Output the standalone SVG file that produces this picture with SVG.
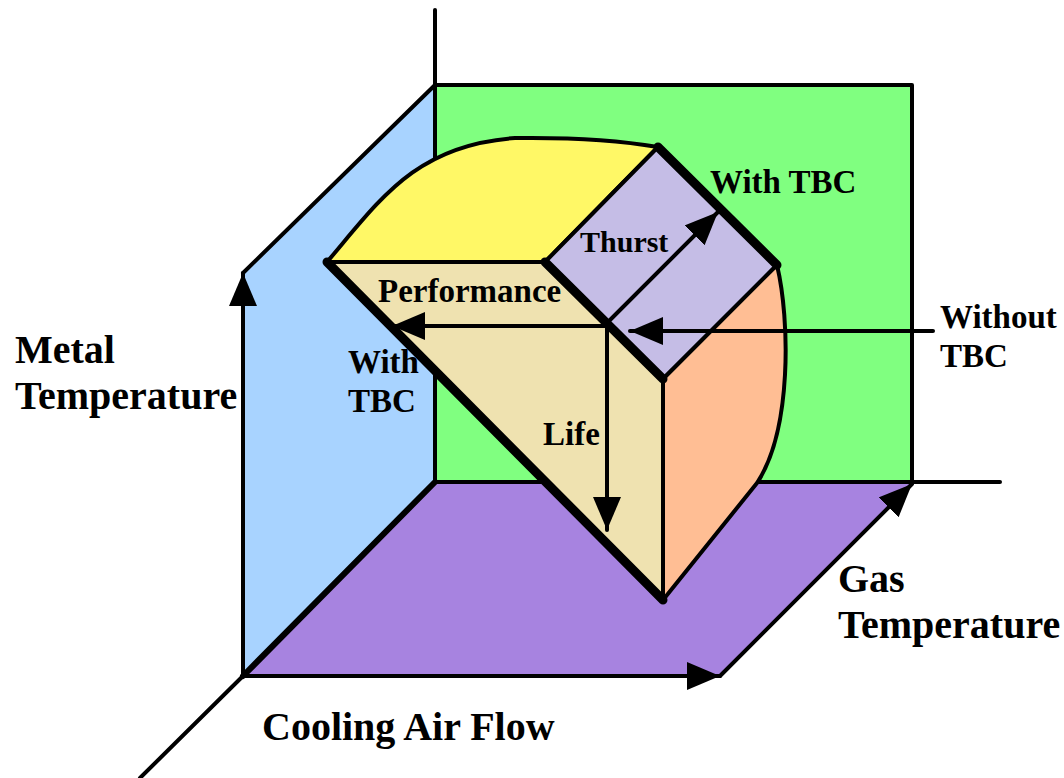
<svg xmlns="http://www.w3.org/2000/svg" width="1064" height="778" viewBox="0 0 1064 778">
<style>
.ln{stroke:#000;stroke-width:4;fill:none;stroke-linecap:round;stroke-linejoin:round}
.face{stroke:#000;stroke-width:4;stroke-linejoin:round}
.thick{stroke:#000;stroke-width:9;fill:none;stroke-linecap:round}
.t{font-family:"Liberation Serif","Times New Roman",serif;font-weight:bold;fill:#000}
</style>
<defs>
<marker id="ah" markerUnits="userSpaceOnUse" markerWidth="36" markerHeight="30" refX="33" refY="14" orient="auto">
<path d="M0,0 L33,14 L0,28 Z" fill="#000"/>
</marker>
</defs>
<rect width="1064" height="778" fill="#fff"/>
<g id="planes">
<rect id="back-plane" x="435" y="85" width="477" height="397" fill="#80FF80" class="face"/>
<polygon id="side-plane" points="435,85 243,273 243,676 435,482" fill="#A8D3FF"/>
<polygon id="floor-plane" points="435,482 912,482 720,676 243,676" fill="#A783E0"/>
</g>
<g id="axes">
<line class="ln" x1="435" y1="10" x2="435" y2="482"/>
<line class="ln" x1="435" y1="85" x2="243" y2="273"/>
<line class="ln" x1="243" y1="676" x2="243" y2="273" marker-end="url(#ah)"/>
<line class="ln" x1="243" y1="676" x2="720" y2="676" marker-end="url(#ah)"/>
<line class="ln" x1="720" y1="676" x2="912" y2="484" marker-end="url(#ah)"/>
<line class="ln" x1="435" y1="482" x2="1000" y2="482"/>
<line class="ln" x1="243" y1="676" x2="140" y2="778"/>
<line class="ln" style="stroke-width:6" x1="243" y1="676" x2="435" y2="482"/>
</g>
<g id="block">
<path id="top-face" class="face" fill="#FFF866" d="M327,262 C380,200 415,145 515,138 C590,137 635,143 658,147 L545,262 Z"/>
<polygon id="thrust-face" class="face" fill="#C5BDE6" points="545,262 658,147 777,265 663,379"/>
<polygon id="performance-face" class="face" fill="#EFE2B0" points="327,262 545,262 663,379 663,600"/>
<path id="side-face" class="face" fill="#FFBE94" d="M663,379 L777,265 C790,320 792,430 757,483 L663,600 Z"/>
<line class="thick" x1="327" y1="262" x2="663" y2="600"/>
<line class="thick" x1="545" y1="262" x2="663" y2="379"/>
<line class="thick" x1="658" y1="147" x2="777" y2="265"/>
</g>
<g id="connectors">
<line class="ln" x1="607" y1="326" x2="392" y2="326" marker-end="url(#ah)"/>
<line class="ln" x1="607" y1="326" x2="607" y2="530" marker-end="url(#ah)"/>
<line class="ln" x1="610" y1="320" x2="718" y2="212" marker-end="url(#ah)"/>
<line class="ln" x1="933" y1="331" x2="630" y2="331" marker-end="url(#ah)"/>
</g>
<g id="labels">
<text class="t" x="15" y="363" font-size="40">Metal</text>
<text class="t" x="15" y="409" font-size="40">Temperature</text>
<text class="t" x="262" y="740" font-size="40">Cooling Air Flow</text>
<text class="t" x="838" y="592" font-size="40">Gas</text>
<text class="t" x="838" y="638" font-size="40">Temperature</text>
<text class="t" x="940" y="328" font-size="33">Without</text>
<text class="t" x="940" y="367" font-size="33">TBC</text>
<text class="t" x="710" y="193" font-size="33">With TBC</text>
<text class="t" x="580" y="252" font-size="30">Thurst</text>
<text class="t" x="378" y="302" font-size="33">Performance</text>
<text class="t" x="348" y="373" font-size="33">With</text>
<text class="t" x="348" y="412" font-size="33">TBC</text>
<text class="t" x="543" y="445" font-size="33">Life</text>
</g>
</svg>
